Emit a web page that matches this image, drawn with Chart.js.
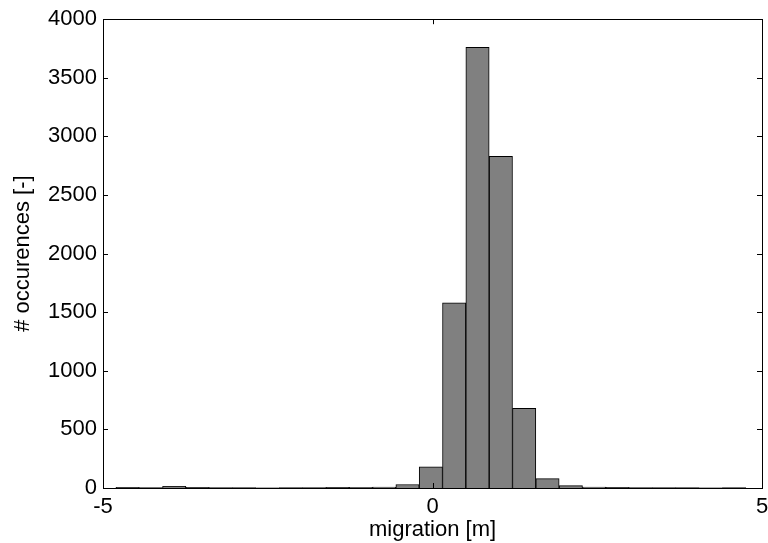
<!DOCTYPE html>
<html>
<head>
<meta charset="utf-8">
<script src="https://cdn.jsdelivr.net/npm/chart.js@4.4.0/dist/chart.umd.min.js"></script>
<style>
  html, body { margin: 0; padding: 0; background: #fff; }
  #wrap { width: 768px; height: 543px; }
</style>
</head>
<body>
<div id="wrap"><canvas id="histChart" width="768" height="543"></canvas></div>
<script>
// bin centres (m) and counts
const binCenters = [-4.627, -4.273, -3.919, -3.565, -3.211, -2.857, -2.503, -2.149, -1.795,
  -1.441, -1.087, -0.733, -0.379, -0.025, 0.329, 0.683, 1.037, 1.391, 1.745, 2.099,
  2.453, 2.807, 3.161, 3.515, 3.869, 4.223, 4.577];
const counts = [5, 3, 15, 5, 4, 3, 2, 3, 4,
  5, 6, 8, 30, 180, 1580, 3760, 2830, 680, 80, 20,
  8, 5, 4, 3, 3, 2, 3];
const xTicks = [-5, 0, 5];
const yTicks = [0, 500, 1000, 1500, 2000, 2500, 3000, 3500, 4000];

const FONT = "'Liberation Sans', Arial, sans-serif";

// matlab style box with inward ticks
const boxTicks = {
  id: 'boxTicks',
  afterDraw(chart) {
    const ctx = chart.ctx;
    const a = chart.chartArea;
    const xs = chart.scales.x, ys = chart.scales.y;
    const len = 5;
    ctx.save();
    ctx.strokeStyle = '#000';
    ctx.lineWidth = 1;
    ctx.strokeRect(Math.round(a.left) + 0.5, Math.round(a.top) + 0.5,
      Math.round(a.right - a.left), Math.round(a.bottom - a.top));
    ctx.beginPath();
    xTicks.forEach(v => {
      const px = Math.round(xs.getPixelForValue(v)) + 0.5;
      ctx.moveTo(px, a.bottom); ctx.lineTo(px, a.bottom - len);
      ctx.moveTo(px, a.top); ctx.lineTo(px, a.top + len);
    });
    yTicks.forEach(v => {
      const py = Math.round(ys.getPixelForValue(v)) + 0.5;
      ctx.moveTo(a.left, py); ctx.lineTo(a.left + len, py);
      ctx.moveTo(a.right, py); ctx.lineTo(a.right - len, py);
    });
    ctx.stroke();
    ctx.restore();
  }
};

new Chart(document.getElementById('histChart'), {
  type: 'bar',
  data: {
    datasets: [{
      data: binCenters.map((c, i) => ({ x: c, y: counts[i] })),
      backgroundColor: '#808080',
      borderColor: '#000',
      borderWidth: 1,
      barPercentage: 1,
      categoryPercentage: 1,
      grouped: false
    }]
  },
  options: {
    responsive: false,
    animation: false,
    layout: { padding: { top: 19, right: 0, left: 10, bottom: 0 } },
    plugins: { legend: { display: false }, tooltip: { enabled: false } },
    scales: {
      x: {
        type: 'linear',
        min: -5, max: 5,
        offset: false,
        afterBuildTicks: s => { s.ticks = xTicks.map(v => ({ value: v })); },
        grid: { display: false, drawTicks: false },
        border: { display: false },
        ticks: { color: '#000', font: { family: FONT, size: 22 }, padding: 6, maxRotation: 0,
          callback: v => String(v) },
        title: { display: true, text: 'migration [m]', color: '#000', font: { family: FONT, size: 22 }, padding: { top: 0, bottom: 0 } },
        afterFit: s => { s.height = 55; s.paddingRight = 6; }
      },
      y: {
        min: 0, max: 4000,
        afterBuildTicks: s => { s.ticks = yTicks.map(v => ({ value: v })); },
        grid: { display: false, drawTicks: false },
        border: { display: false },
        ticks: { color: '#000', font: { family: FONT, size: 22 }, padding: 6,
          callback: v => String(v) },
        title: { display: true, text: '# occurences [-]', color: '#000', font: { family: FONT, size: 22 }, padding: { top: 0, bottom: 4 } },
        afterFit: s => { s.width = 93; }
      }
    }
  },
  plugins: [boxTicks]
});
</script>
</body>
</html>
